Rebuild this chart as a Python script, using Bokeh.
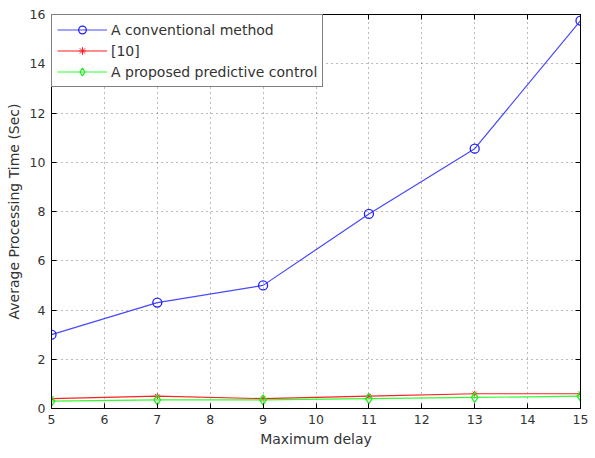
from bokeh.plotting import figure
from bokeh.models import LinearAxis, FixedTicker, Range1d, Legend, LegendItem
from bokeh.embed import file_html
from bokeh.resources import INLINE

delays = [5, 7, 9, 11, 13, 15]
conventional = [3.0, 4.3, 5.0, 7.9, 10.55, 15.75]
ref10 = [0.4, 0.5, 0.4, 0.5, 0.6, 0.6]
proposed = [0.3, 0.35, 0.35, 0.4, 0.45, 0.5]
x_ticks = list(range(5, 16))
y_ticks = list(range(0, 17, 2))

FONT = "DejaVu Sans"
TXT = "#333333"

p = figure(width=595, height=458, output_backend="svg", toolbar_location=None,
           x_range=Range1d(5, 15), y_range=Range1d(0, 16),
           min_border_left=51, min_border_right=15, min_border_top=14, min_border_bottom=50)
p.background_fill_color = "white"
p.border_fill_color = "white"
p.outline_line_color = "black"
p.outline_line_width = 1

p.xaxis.ticker = FixedTicker(ticks=x_ticks)
p.yaxis.ticker = FixedTicker(ticks=y_ticks)
for ax in [p.xaxis[0], p.yaxis[0]]:
    ax.major_tick_in = 5
    ax.major_tick_out = 0
    ax.minor_tick_line_color = None
    ax.major_label_text_font = FONT
    ax.major_label_text_font_size = "12.5px"
    ax.major_label_text_color = TXT
    ax.axis_label_text_font = FONT
    ax.axis_label_text_font_size = "14px"
    ax.axis_label_text_font_style = "normal"
    ax.axis_label_text_color = TXT
p.xaxis.axis_label = "Maximum delay"
p.yaxis.axis_label = "Average Processing Time (Sec)"
p.xaxis.major_label_standoff = 6
p.yaxis.major_label_standoff = 6
p.xaxis.axis_label_standoff = 4
p.yaxis.axis_label_standoff = 5

top = LinearAxis(ticker=FixedTicker(ticks=x_ticks), major_label_text_font_size="0px",
                 major_tick_in=5, major_tick_out=0, minor_tick_line_color=None)
right = LinearAxis(ticker=FixedTicker(ticks=y_ticks), major_label_text_font_size="0px",
                   major_tick_in=5, major_tick_out=0, minor_tick_line_color=None)
top.major_label_text_color = None
right.major_label_text_color = None
p.add_layout(top, "above")
p.add_layout(right, "right")

p.xgrid.ticker = FixedTicker(ticks=x_ticks)
p.ygrid.ticker = FixedTicker(ticks=y_ticks)
for g in [p.xgrid[0], p.ygrid[0]]:
    g.grid_line_color = "#555555"
    g.grid_line_dash = "1 4"
    g.grid_line_width = 1
    g.grid_line_alpha = 0.8

l1 = p.line(delays, conventional, line_color="#4848ff", line_width=1.2)
m1 = p.scatter(delays, conventional, marker="circle", size=9, fill_color=None,
               line_color="#2020ff", line_width=1.3)
l2 = p.line(delays, ref10, line_color="#ff2020", line_width=1.2)
m2 = p.scatter(delays, ref10, marker="asterisk", size=6, line_color="#ff2020", line_width=1)
l3 = p.line(delays, proposed, line_color="#30ff30", line_width=1.2)
m3 = p.scatter(delays, proposed, marker="diamond", size=10, fill_color=None,
               line_color="#20ee20", line_width=1.3)

legend = Legend(items=[
    LegendItem(label="A conventional method", renderers=[l1, m1]),
    LegendItem(label="[10]", renderers=[l2, m2]),
    LegendItem(label="A proposed predictive control", renderers=[l3, m3]),
], location="top_left")
legend.border_line_color = "black"
legend.border_line_width = 1.2
legend.margin = 0
legend.padding = 5
legend.spacing = 2
legend.glyph_width = 50
legend.glyph_height = 19
legend.label_height = 19
legend.label_standoff = 4
legend.label_text_font = FONT
legend.label_text_font_size = "14px"
legend.label_text_color = TXT
legend.background_fill_alpha = 1
p.add_layout(legend, "center")

open("out.html", "w").write(file_html(p, INLINE))
